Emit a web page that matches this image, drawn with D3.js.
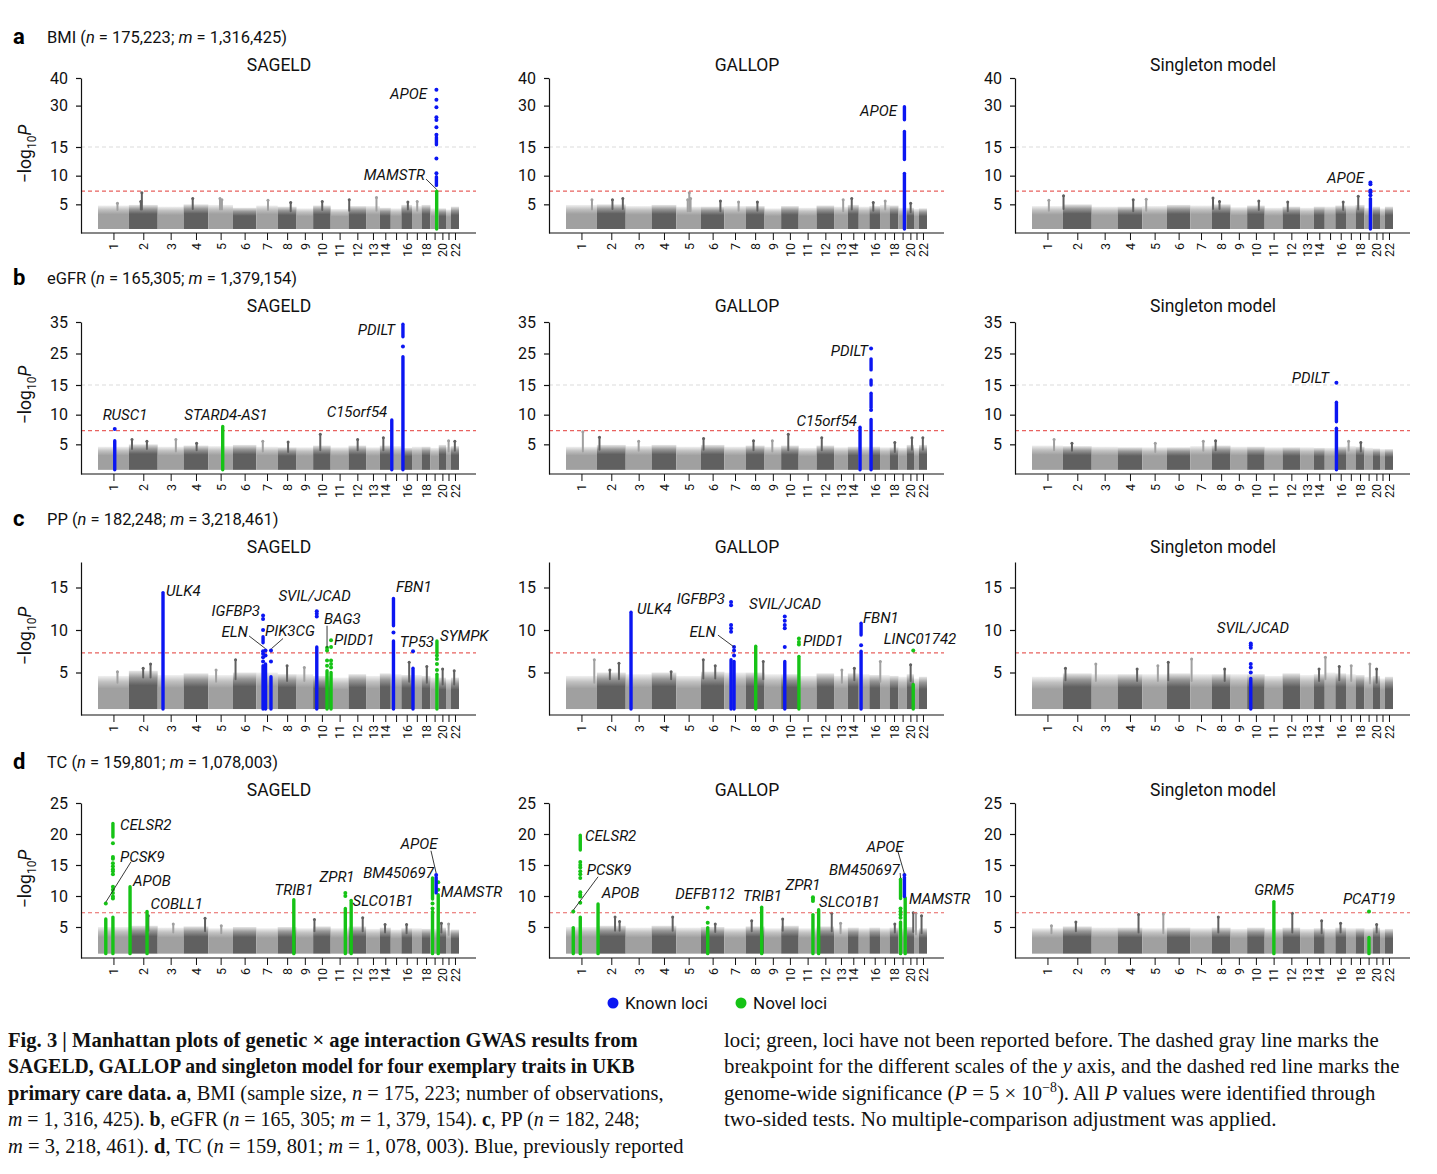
<!doctype html>
<html lang="en">
<head>
<meta charset="utf-8">
<script src="https://d3js.org/d3.v7.min.js"></script>
<style>
  body { margin:0; background:#fff; }
  svg { font-family: Roboto, "Noto Sans", sans-serif; }
  .ttl { font-size:16.5px; fill:#111; }
  .letter { font-size:22px; font-weight:bold; fill:#000; }
  .ptl { font-size:17.5px; fill:#111; }
  .gene { font-size:15px; font-style:italic; fill:#111; }
  .cap { font-family:"Liberation Serif", serif; font-size:21px; fill:#111; }
</style>
</head>
<body>
<div id="chart"></div>
<script>
// ---- genome layout (approximate SNP span per chromosome, Mb) ----
const chrNames = d3.range(1, 23).map(String);
const chrLen = [238,222,200,190,190,180,165,145,128,135,138,135,106,84,82,82,74,68,64,56,38,62];
const chrTickLabels = ["1","2","3","4","5","6","7","8","9","10","11","12","13","14","","16","","18","","20","","22"];

// ---- traits / models ----
const letters = ["a","b","c","d"];
const traits = ["BMI","eGFR","PP","TC"];
const traitN = ["175,223","165,305","182,248","159,801"];
const traitM = ["1,316,425","1,379,154","3,218,461","1,078,003"];
const models = ["SAGELD","GALLOP","Singleton model"];
const yTicks = [[5,10,15,30,40],[5,10,15,25,35],[5,10,15],[5,10,15,20,25]];
const yDomains = [[0,15,40],[0,15,35],[0,18],[0,25]];
const yBreak = [15,15,null,null];
const gwLine = -Math.log10(5e-8);
const pBase = 0.7;

// ---- background: upper edge of the dense cloud per chromosome [SAGELD, GALLOP, Singleton] ----
const bmiTops = [
  [4.8,4.9,4.6,5.0,4.9,4.4,4.8,4.6,4.3,4.8,4.2,4.7,4.7,4.4,4.3,4.9,4.7,4.9,4.3,4.3,4.1,4.6],
  [4.9,5.0,4.7,4.9,4.6,4.6,4.7,4.7,4.3,4.7,4.4,4.8,4.6,4.9,4.6,4.7,4.9,4.8,4.4,4.4,4.2,4.3],
  [4.7,5.0,4.6,4.6,4.7,4.9,4.8,5.0,4.5,4.8,4.4,4.6,4.4,4.6,4.6,4.8,4.8,4.9,4.4,4.6,4.3,4.6]];
const egfrTops = [
  [4.6,5.0,4.6,4.8,4.7,4.9,4.6,4.5,4.5,4.8,4.5,4.8,4.5,4.8,4.7,4.4,4.6,4.6,4.4,4.9,4.6,4.7],
  [4.6,4.9,4.7,4.9,4.6,4.9,4.6,4.8,4.6,4.8,4.4,4.8,4.5,4.6,4.6,4.6,4.5,4.5,4.4,4.9,4.4,4.9],
  [4.8,4.7,4.6,4.5,4.5,4.5,4.7,4.8,4.6,4.6,4.5,4.5,4.5,4.4,4.4,4.6,4.7,4.6,4.4,4.3,4.2,4.2]];
const ppTops = [
  [4.6,5.2,4.7,4.9,4.7,5.0,5.0,4.8,4.8,4.6,4.4,4.8,4.6,4.9,4.8,4.7,4.7,4.6,4.4,4.4,4.2,4.4],
  [4.6,5.0,4.8,5.0,4.6,5.1,5.0,5.0,4.8,4.8,4.6,4.9,4.6,4.9,4.8,4.7,4.7,4.6,4.5,4.8,4.3,4.5],
  [4.5,4.9,4.8,4.8,4.8,4.9,4.8,4.8,4.8,4.8,4.6,4.9,4.7,4.8,5.0,4.9,4.8,4.7,4.5,4.6,4.3,4.5]];
const tcTops = [
  [5.0,5.2,4.9,5.1,4.8,5.0,4.8,5.0,4.8,5.1,4.8,5.1,4.7,4.9,4.6,4.8,4.8,4.7,4.7,4.9,4.5,4.6],
  [5.0,5.2,4.9,5.2,4.9,5.0,4.8,5.1,4.8,5.2,4.8,5.1,4.8,4.9,4.8,4.9,4.8,4.9,4.8,5.0,4.6,4.8],
  [4.8,5.1,4.9,4.9,4.8,4.9,4.8,4.9,4.7,4.9,4.7,4.9,4.7,4.8,4.7,4.9,4.8,4.8,4.7,4.9,4.6,4.7]];

// ---- isolated gray peaks: [model, chr, pos, -log10P] ----
const bmiSpikes = [
  [0,1,150,5.2],[0,2,100,7.0],[0,2,92,5.5],[0,4,70,6.0],[0,5,90,6.0],[0,5,105,5.8],[0,7,90,5.7],[0,8,100,5.3],[0,10,70,5.5],[0,12,5,5.8],[0,13,80,6.2],[0,16,50,5.4],[0,17,40,5.5],
  [1,1,200,5.8],[1,2,120,5.8],[1,2,200,6.0],[1,5,100,7.0],[1,5,110,6.0],[1,5,88,5.8],[1,6,150,5.6],[1,7,110,5.4],[1,8,90,5.4],[1,13,70,5.8],[1,14,30,6.0],[1,16,30,5.3],[1,17,40,5.6],[1,20,30,5.2],
  [2,1,130,5.7],[2,2,5,6.5],[2,4,120,5.8],[2,5,30,5.9],[2,8,10,6.1],[2,8,60,5.5],[2,10,90,5.6],[2,12,40,5.4],[2,16,60,5.4],[2,18,20,6.4]];
const egfrSpikes = [
  [0,2,24,5.8],[0,2,139,5.5],[0,3,140,5.8],[0,4,100,5.2],[0,7,50,5.5],[0,8,80,5.4],[0,10,55,6.7],[0,12,70,5.8],[0,14,27,6.1],[0,21,20,5.6],[0,22,30,5.5],
  [1,1,130,7.1],[1,2,20,6.2],[1,3,100,5.5],[1,6,20,6.0],[1,8,60,5.6],[1,9,60,5.6],[1,10,55,6.7],[1,12,40,6.1],[1,18,40,5.3],[1,20,40,6.1],[1,22,30,6.1],
  [2,1,170,5.8],[2,2,70,5.2],[2,5,100,5.2],[2,7,100,5.5],[2,8,30,5.6],[2,17,20,5.5],[2,18,40,5.3]];
const ppSpikes = [
  [0,1,150,5.1],[0,2,110,5.5],[0,2,167,6.0],[0,5,60,5.3],[0,6,20,6.5],[0,8,72,5.8],[0,9,60,5.6],[0,16,60,6.2],[0,18,40,5.7],[0,20,30,5.4],[0,22,25,5.2],
  [1,1,218,6.5],[1,2,100,5.3],[1,2,170,6.1],[1,4,150,5.1],[1,6,18,6.5],[1,6,110,5.8],[1,8,135,6.3],[1,13,60,5.3],[1,14,50,5.5],[1,17,2,6.3],[1,20,30,5.9],
  [2,2,20,5.5],[2,3,32,6.0],[2,4,150,5.4],[2,5,120,5.8],[2,6,10,6.2],[2,7,10,6.6],[2,8,100,5.4],[2,14,40,5.4],[2,15,5,6.8],[2,16,30,5.7],[2,17,40,5.8],[2,19,42,6.0],[2,20,30,5.4]];
const tcSpikes = [
  [0,2,150,6.8],[0,3,120,5.5],[0,4,165,6.4],[0,5,100,5.2],[0,10,10,6.2],[0,12,109,6.5],[0,14,40,5.4],[0,16,40,5.4],[0,20,20,5.6],[0,21,20,5.5],
  [1,2,140,6.6],[1,2,175,5.9],[1,4,162,6.6],[1,6,110,5.5],[1,8,46,6.0],[1,10,12,6.3],[1,12,117,7.2],[1,13,50,5.6],[1,18,40,5.5],[1,20,50,7.3],[1,21,15,7.2],[1,22,20,6.8],
  [2,1,150,5.2],[2,2,100,5.8],[2,4,161,7.0],[2,5,162,7.1],[2,8,51,6.6],[2,12,75,7.2],[2,14,60,6.0],[2,16,40,5.6],[2,20,30,5.4]];

// ---- loci: [model, gene, chr, pos, k=known / n=novel, dense runs [lo,hi], single points] ----
const bmiLoci = [
  [0,"MAMSTR",19,48,"n",[[0.7,7.3]],[]],
  [0,"APOE",19,46,"k",[[8.3,9.8],[15.8,18.6]],[10.4,13.0,19.4,22.2,24.8,25.8,29.4,32.1,35.7]],
  [1,"APOE",19,46,"k",[[0.7,10.4],[12.8,20.6],[24.9,29.6]],[]],
  [2,"APOE",19,46,"k",[[0.7,6.0]],[6.6,7.1,7.4,8.5,8.8]]];
const egfrLoci = [
  [0,"RUSC1",1,129,"k",[[0.7,5.6]],[7.6]],
  [0,"STARD4-AS1",5,111,"n",[[0.7,8.0]],[]],
  [0,"C15orf54",15,8,"k",[[0.7,9.1]],[]],
  [0,"PDILT",16,12,"k",[[0.7,24.0],[30.3,34.3]],[27.2]],
  [1,"C15orf54",15,10,"k",[[0.7,7.9]],[]],
  [1,"PDILT",16,13,"k",[[0.7,9.2],[11.2,13.6],[15.0,16.6],[19.8,23.3]],[10.8,26.6]],
  [2,"PDILT",16,8,"k",[[0.7,7.7],[8.8,12.1]],[15.7]]];
const ppLoci = [
  [0,"ULK4",3,41,"k",[[0.7,14.4]],[]],
  [0,"IGFBP3",7,52,"k",[[0.7,5.8],[8.5,9.2]],[6.3,6.8,7.2,7.5,10.0,11.3,11.7]],
  [0,"ELN",7,71,"k",[[0.7,6.0]],[7.0,7.6]],
  [0,"PIK3CG",7,113,"k",[[0.7,4.5]],[6.3,7.6]],
  [0,"SVIL/JCAD",10,28,"k",[[0.7,8.0]],[11.6,11.9,12.2]],
  [0,"BAG3",10,107,"n",[[0.7,5.2]],[5.8,6.4,7.6,7.9]],
  [0,"PIDD1",11,3,"n",[[0.7,5.0]],[5.6,6.0,6.4,8.0,8.8]],
  [0,"FBN1",15,21,"k",[[0.7,8.7],[10.5,13.7]],[9.7]],
  [0,"TP53",17,7.6,"k",[[0.7,5.5]],[7.5]],
  [0,"SYMPK",19,50,"n",[[0.7,4.8],[7.3,8.7]],[5.3,6.0,6.6,7.0]],
  [1,"ULK4",3,41,"k",[[0.7,12.1]],[]],
  [1,"IGFBP3",7,52,"k",[[0.7,6.5]],[9.8,10.2,10.6,12.9,13.3]],
  [1,"ELN",7,75,"k",[[0.7,6.3]],[7.0,7.6,8.0]],
  [1,"",8,77,"n",[[0.7,8.1]],[]],
  [1,"SVIL/JCAD",10,28,"k",[[0.7,6.3]],[8.0,10.2,10.6,11.1,11.6]],
  [1,"PIDD1",11,2,"n",[[0.7,6.9]],[8.3,8.6,9.0]],
  [1,"FBN1",15,18,"k",[[0.7,7.5],[9.4,10.8]],[8.2]],
  [1,"LINC01742",20,50,"n",[[0.7,3.6]],[7.6]],
  [2,"SVIL/JCAD",10,28,"k",[[0.7,4.3]],[5.0,5.6,6.0,7.9,8.2,8.4]]];
const tcLoci = [
  [0,"PCSK9",1,60,"n",[[0.7,6.3]],[8.8]],
  [0,"CELSR2",1,115,"n",[[0.7,6.6],[19.5,21.7]],[9.6,9.9,10.5,11.0,11.5,13.5,14.0,14.3,14.8,15.3,16.0,16.3,18.5]],
  [0,"APOB",2,9,"n",[[0.7,11.5]],[]],
  [0,"COBLL1",2,140,"n",[[0.7,7.5]],[]],
  [0,"TRIB1",8,124,"n",[[0.7,9.4]],[]],
  [0,"ZPR1",11,113,"n",[[0.7,8.0]],[10.0,10.5]],
  [0,"SLCO1B1",12,20,"n",[[0.7,9.3]],[]],
  [0,"BM450697",19,16,"n",[[0.7,7.5],[9.5,12.9]],[8.0,8.8]],
  [0,"MAMSTR",19,60,"n",[[0.7,10.2]],[11.0,12.2]],
  [0,"APOE",19,44,"k",[[10.5,13.0]],[13.4]],
  [1,"PCSK9",1,56,"n",[[0.7,4.9]],[7.5]],
  [1,"CELSR2",1,110,"n",[[0.7,6.6],[17.4,19.8]],[8.9,9.9,10.2,10.6,12.9,13.5,14.0,14.6,15.0,15.5]],
  [1,"APOB",2,9,"n",[[0.7,8.7]],[]],
  [1,"DEFB112",6,52,"n",[[0.7,4.9]],[5.7,8.1]],
  [1,"TRIB1",8,123,"n",[[0.7,8.2]],[]],
  [1,"ZPR1",11,110,"n",[[0.7,7.0]],[9.2,9.5,9.8]],
  [1,"SLCO1B1",12,16,"n",[[0.7,7.8]],[]],
  [1,"BM450697",19,16,"n",[[0.7,5.8],[9.6,12.7]],[6.5,7.0,7.5,8.0]],
  [1,"MAMSTR",19,52,"n",[[0.7,9.7]],[]],
  [1,"APOE",19,46,"k",[[9.9,13.0]],[13.4]],
  [2,"GRM5",11,71,"n",[[0.7,9.1]],[]],
  [2,"PCAT19",19,35,"n",[[0.7,3.3]],[7.5]]];

// ---- gene labels: [model, text, genome coord, -log10P, anchor]; leaders: [model, g1, v1, g2, v2] ----
const bmiLabels = [[0,"APOE",2535,34.2,"end"],[0,"MAMSTR",2520,10.1,"end"],[1,"APOE",2551,28.1,"end"],[2,"APOE",2559,9.6,"end"]];
const bmiLeaders = [[0,2528,9.4,2610,7.6]];
const egfrLabels = [[0,"RUSC1",208,9.9,"middle"],[0,"STARD4-AS1",986,9.9,"middle"],[0,"C15orf54",1996,10.4,"middle"],[0,"PDILT",2289,32.5,"end"],
  [1,"C15orf54",2243,8.9,"end"],[1,"PDILT",2327,25.8,"end"],[2,"PDILT",2289,17.2,"end"]];
const egfrLeaders = [];
const ppLabels = [[0,"ULK4",524,14.6,"start"],[0,"IGFBP3",1248,12.2,"end"],[0,"ELN",1156,9.8,"end"],[0,"PIK3CG",1287,9.9,"start"],
  [0,"SVIL/JCAD",1669,14.0,"middle"],[0,"BAG3",1742,11.3,"start"],[0,"PIDD1",1819,8.8,"start"],[0,"FBN1",2296,15.1,"start"],
  [0,"TP53",2458,8.6,"middle"],[0,"SYMPK",2636,9.3,"start"],
  [1,"ULK4",547,12.5,"start"],[1,"IGFBP3",1225,13.6,"end"],[1,"ELN",1156,9.8,"end"],[1,"SVIL/JCAD",1688,13.1,"middle"],
  [1,"PIDD1",1826,8.7,"start"],[1,"FBN1",2289,11.4,"start"],[1,"LINC01742",2728,8.9,"middle"],
  [2,"SVIL/JCAD",1703,10.2,"middle"]];
const ppLeaders = [[0,1164,9.3,1291,7.8],[0,1426,9.0,1336,7.8],[0,1765,10.5,1765,7.9],[1,1171,9.4,1295,8.0]];
const tcLabels = [[0,"CELSR2",170,21.5,"start"],[0,"PCSK9",170,16.3,"start"],[0,"APOB",270,12.4,"start"],[0,"COBLL1",405,8.7,"start"],
  [0,"TRIB1",1510,11.0,"middle"],[0,"ZPR1",1842,13.1,"middle"],[0,"SLCO1B1",1962,9.2,"start"],[0,"BM450697",2589,13.7,"end"],
  [0,"APOE",2474,18.4,"middle"],[0,"MAMSTR",2642,10.6,"start"],
  [1,"CELSR2",146,19.7,"start"],[1,"PCSK9",160,14.2,"start"],[1,"APOB",275,10.5,"start"],[1,"DEFB112",1071,10.3,"middle"],
  [1,"TRIB1",1514,10.0,"middle"],[1,"ZPR1",1826,11.8,"middle"],[1,"SLCO1B1",1950,9.0,"start"],[1,"BM450697",2572,14.2,"end"],
  [1,"APOE",2458,17.9,"middle"],[1,"MAMSTR",2643,9.5,"start"],
  [2,"GRM5",1865,11.0,"middle"],[2,"PCAT19",2597,9.5,"middle"]];
const tcLeaders = [[0,254,15.5,60,9.0],[0,2566,17.3,2606,13.7],[1,247,13.1,56,7.7],[1,2559,17.1,2608,13.6],[1,2575,13.7,2578,12.9]];

const allTops = [bmiTops, egfrTops, ppTops, tcTops];
const allSpikes = [bmiSpikes, egfrSpikes, ppSpikes, tcSpikes];
const allLoci = [bmiLoci, egfrLoci, ppLoci, tcLoci];
const allLabels = [bmiLabels, egfrLabels, ppLabels, tcLabels];
const allLeaders = [bmiLeaders, egfrLeaders, ppLeaders, tcLeaders];

// ---- layout ----
const W = 1437, H = 1174;
const colX = [81, 549, 1015];
const rowAxisY = [233, 474, 715, 958];
const rowYRange = [[0,86,155],[0,89,152],[0,153],[0,155]];
const lightGray = "#a0a0a0", darkGray = "#606060";
const blue = "#0b16f2", green = "#16c316";

const cum = [];
let acc = 0;
chrLen.forEach(l => { cum.push(acc); acc += l; });
const genomeLen = acc;
const mids = chrLen.map((l, i) => cum[i] + l / 2);

const svg = d3.select("#chart").append("svg")
    .attr("width", W).attr("height", H)
    .attr("viewBox", `0 0 ${W} ${H}`);

const defs = svg.append("defs");
[["gl", lightGray], ["gd", darkGray]].forEach(([id, c]) => {
  const lg = defs.append("linearGradient").attr("id", id)
      .attr("x1", 0).attr("y1", 1).attr("x2", 0).attr("y2", 0);
  [[0, 1], [0.62, 1], [0.82, 0.65], [1, 0.15]].forEach(([o, op]) =>
    lg.append("stop").attr("offset", o).attr("stop-color", c).attr("stop-opacity", op));
});

function drawPanel(r, c) {
  const x0 = colX[c], axY = rowAxisY[r];
  const g = svg.append("g");
  const x = d3.scaleLinear().domain([0, genomeLen]).range([x0 + 17, x0 + 378]);
  const y = d3.scaleLinear().domain(yDomains[r]).range(rowYRange[r].map(d => axY - d));
  const tops = allTops[r][c];

  // reference lines
  const hl = (v, col, dash) => g.append("line")
      .attr("x1", x0).attr("x2", x0 + 395).attr("y1", y(v)).attr("y2", y(v))
      .attr("stroke", col).attr("stroke-width", 1.2).attr("stroke-dasharray", dash);
  if (yBreak[r] != null) hl(yBreak[r], "#dcdcdc", "4,3");

  // background cloud
  g.selectAll("rect.blk").data(chrNames).join("rect")
      .attr("x", (d, i) => x(cum[i]))
      .attr("width", (d, i) => x(cum[i] + chrLen[i]) - x(cum[i]))
      .attr("y", (d, i) => y(tops[i]))
      .attr("height", (d, i) => y(pBase) - y(tops[i]))
      .attr("fill", (d, i) => i % 2 ? "url(#gd)" : "url(#gl)");

  const spikes = allSpikes[r].filter(d => d[0] === c);
  const sx = d => x(cum[d[1] - 1] + d[2]);
  const scol = d => (d[1] % 2 ? lightGray : darkGray);
  g.selectAll("line.sp").data(spikes).join("line")
      .attr("x1", sx).attr("x2", sx)
      .attr("y1", d => y(tops[d[1] - 1] - 0.8)).attr("y2", d => y(d[3]))
      .attr("stroke", scol).attr("stroke-width", 2).attr("stroke-linecap", "round");
  g.selectAll("circle.sp").data(spikes).join("circle")
      .attr("cx", sx).attr("cy", d => y(d[3])).attr("r", 1.5).attr("fill", scol);

  hl(gwLine, "#e8625f", "4,3");

  // loci (novel first, known on top)
  const loci = allLoci[r].filter(d => d[0] === c)
      .sort((a, b) => (a[4] === "n" ? 0 : 1) - (b[4] === "n" ? 0 : 1));
  loci.forEach(d => {
    const lx = x(cum[d[2] - 1] + d[3]);
    const col = d[4] === "k" ? blue : green;
    g.selectAll(null).data(d[5]).join("line")
        .attr("x1", lx).attr("x2", lx)
        .attr("y1", s => y(s[0])).attr("y2", s => y(s[1]))
        .attr("stroke", col).attr("stroke-width", 3.4).attr("stroke-linecap", "round");
    g.selectAll(null).data(d[6]).join("circle")
        .attr("cx", lx).attr("cy", v => y(v)).attr("r", 2).attr("fill", col);
  });

  // leaders and labels
  g.selectAll("line.ld").data(allLeaders[r].filter(d => d[0] === c)).join("line")
      .attr("x1", d => x(d[1])).attr("y1", d => y(d[2]))
      .attr("x2", d => x(d[3])).attr("y2", d => y(d[4]))
      .attr("stroke", "#222").attr("stroke-width", 0.9);
  g.selectAll("text.gene").data(allLabels[r].filter(d => d[0] === c)).join("text")
      .attr("class", "gene")
      .attr("x", d => x(d[2])).attr("y", d => y(d[3]))
      .attr("dominant-baseline", "central")
      .attr("text-anchor", d => d[4])
      .text(d => d[1]);

  // y axis
  const ya = g.append("g").attr("transform", `translate(${x0},0)`)
      .call(d3.axisLeft(y).tickValues(yTicks[r]).tickSize(5).tickSizeOuter(0).tickPadding(8));
  ya.attr("font-family", null).attr("font-size", null);
  ya.selectAll("text").attr("font-size", 16).attr("fill", "#111");
  ya.selectAll("line, path").attr("stroke", "#111").attr("stroke-width", 1.2);

  // x axis
  g.append("line").attr("x1", x0).attr("x2", x0 + 395).attr("y1", axY).attr("y2", axY)
      .attr("stroke", "#111").attr("stroke-width", 1.2);
  const xa = g.append("g").attr("transform", `translate(0,${axY})`)
      .call(d3.axisBottom(x).tickValues(mids).tickSize(7).tickSizeOuter(0)
        .tickFormat((d, i) => chrTickLabels[i]));
  xa.select(".domain").remove();
  xa.attr("font-family", null).attr("font-size", null);
  xa.selectAll("line").attr("stroke", "#111").attr("stroke-width", 1);
  xa.selectAll("text")
      .attr("font-size", 12.5).attr("fill", "#111")
      .attr("transform", "rotate(-90)")
      .attr("x", -10).attr("y", 0).attr("dy", "0.35em")
      .attr("text-anchor", "end");

  // panel title
  svg.append("text").attr("class", "ptl")
      .attr("x", x0 + 198).attr("y", axY - 162)
      .attr("text-anchor", "middle").text(models[c]);

  if (c === 0) {
    const yl = svg.append("text")
        .attr("transform", `translate(31,${axY - 79}) rotate(-90)`)
        .attr("text-anchor", "middle").attr("font-size", 17.5).attr("fill", "#111");
    yl.append("tspan").text("\u2212log");
    yl.append("tspan").attr("font-size", 12).attr("dy", 5).text("10");
    yl.append("tspan").attr("font-style", "italic").attr("dy", -5).text("P");
  }
}

traits.forEach((t, r) => {
  const axY = rowAxisY[r];
  svg.append("text").attr("class", "letter").attr("x", 13).attr("y", axY - 189).text(letters[r]);
  const tt = svg.append("text").attr("class", "ttl").attr("x", 47).attr("y", axY - 190);
  tt.append("tspan").text(t + " (");
  tt.append("tspan").attr("font-style", "italic").text("n");
  tt.append("tspan").text(" = " + traitN[r] + "; ");
  tt.append("tspan").attr("font-style", "italic").text("m");
  tt.append("tspan").text(" = " + traitM[r] + ")");
  models.forEach((m, c) => drawPanel(r, c));
});

// legend
const legend = [["Known loci", blue, 613], ["Novel loci", green, 741]];
legend.forEach(([txt, col, lx]) => {
  svg.append("circle").attr("cx", lx).attr("cy", 1003).attr("r", 5.5).attr("fill", col);
  svg.append("text").attr("x", lx + 12).attr("y", 1003).attr("dominant-baseline", "central")
      .attr("font-size", 17).attr("fill", "#111").text(txt);
});

// caption (each line is squeezed horizontally to the reference line width)
const B = "b", I = "i", N = "", S = "s";
const capLines = [
  [8, 1047, 630, [[B, "Fig. 3 | Manhattan plots of genetic \u00d7 age interaction GWAS results from"]]],
  [8, 1073, 627, [[B, "SAGELD, GALLOP and singleton model for four exemplary traits in UKB"]]],
  [8, 1100, 656, [[B, "primary care data. a"], [N, ", BMI (sample size, "], [I, "n"], [N, " = 175, 223; number of observations,"]]],
  [8, 1126, 632, [[I, "m"], [N, " = 1, 316, 425). "], [B, "b"], [N, ", eGFR ("], [I, "n"], [N, " = 165, 305; "], [I, "m"], [N, " = 1, 379, 154). "], [B, "c"], [N, ", PP ("], [I, "n"], [N, " = 182, 248;"]]],
  [8, 1153, 676, [[I, "m"], [N, " = 3, 218, 461). "], [B, "d"], [N, ", TC ("], [I, "n"], [N, " = 159, 801; "], [I, "m"], [N, " = 1, 078, 003). Blue, previously reported"]]],
  [724, 1047, 655, [[N, "loci; green, loci have not been reported before. The dashed gray line marks the"]]],
  [724, 1073, 676, [[N, "breakpoint for the different scales of the "], [I, "y"], [N, " axis, and the dashed red line marks the"]]],
  [724, 1100, 652, [[N, "genome-wide significance ("], [I, "P"], [N, " = 5 \u00d7 10"], [S, "\u22128"], [N, "). All "], [I, "P"], [N, " values were identified through"]]],
  [724, 1126, 553, [[N, "two-sided tests. No multiple-comparison adjustment was applied."]]]
];
capLines.forEach(([lx, ly, len, parts]) => {
  const t = svg.append("text").attr("class", "cap").attr("x", 0).attr("y", 0);
  let raised = false;
  parts.forEach(([st, s]) => {
    const ts = t.append("tspan").text(s);
    if (st === B) ts.attr("font-weight", "bold");
    if (st === I) ts.attr("font-style", "italic");
    if (st === S) { ts.attr("font-size", 14).attr("dy", -8); raised = true; }
    else if (raised) { ts.attr("dy", 8); raised = false; }
  });
  const natural = t.node().getComputedTextLength();
  t.attr("transform", `translate(${lx},${ly}) scale(${(len / natural).toFixed(4)},1)`);
});
</script>
</body>
</html>
